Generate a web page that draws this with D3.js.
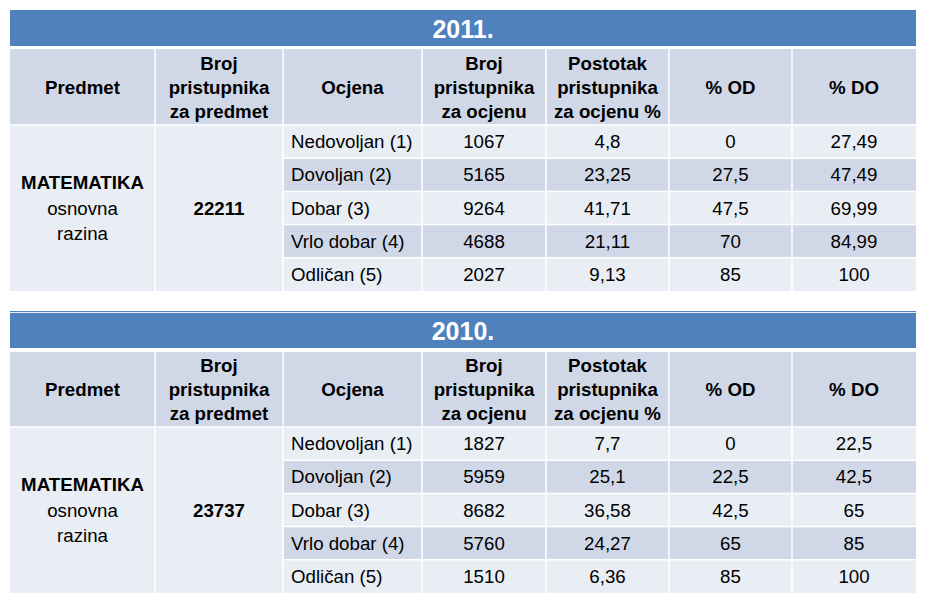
<!DOCTYPE html>
<html>
<head>
<meta charset="utf-8">
<script src="https://cdn.jsdelivr.net/npm/d3@7/dist/d3.min.js"></script>
<style>
  body { margin: 0; background: #fff; }
  svg text { font-family: "Liberation Sans", Arial, sans-serif; }
</style>
</head>
<body>
<div id="chart"></div>
<script>
// table data
var years = ["2011.", "2010."],
    headers = [["Predmet"], ["Broj", "pristupnika", "za predmet"], ["Ocjena"],
               ["Broj", "pristupnika", "za ocjenu"], ["Postotak", "pristupnika", "za ocjenu %"],
               ["% OD"], ["% DO"]],
    subject = ["MATEMATIKA", "osnovna", "razina"],
    grades = ["Nedovoljan (1)", "Dovoljan (2)", "Dobar (3)", "Vrlo dobar (4)", "Odličan (5)"],
    candidates = [22211, 23737],
    count2011 = [1067, 5165, 9264, 4688, 2027],
    pct2011 = [4.8, 23.25, 41.71, 21.11, 9.13],
    od2011 = [0, 27.5, 47.5, 70, 85],
    do2011 = [27.49, 47.49, 69.99, 84.99, 100],
    count2010 = [1827, 5959, 8682, 5760, 1510],
    pct2010 = [7.7, 25.1, 36.58, 24.27, 6.36],
    od2010 = [0, 22.5, 42.5, 65, 85],
    do2010 = [22.5, 42.5, 65, 85, 100];

var tables = [
  { year: years[0], total: candidates[0], cols: [count2011, pct2011, od2011, do2011] },
  { year: years[1], total: candidates[1], cols: [count2010, pct2010, od2010, do2010] }
];

var width = 931, height = 609,
    blue = "#4f81bd", dark = "#d0d8e8", light = "#e9edf4",
    fs = 18.7, lineH = 24;

// column edges
var colEdges = [10, 155, 283, 422, 546, 669, 792, 916];
// vertical layout per table: band top, band bottom, header top, header bottom, rows bottom
var layouts = [
  { bandTop: 10, bandBottom: 46, headTop: 49, headBottom: 125, bottom: 291, topLine: false },
  { bandTop: 311, bandBottom: 348, headTop: 352, headBottom: 427, bottom: 593, topLine: true }
];

var fmt = function(v) { return String(v).replace(".", ","); };

var svg = d3.select("#chart").append("svg")
    .attr("width", width)
    .attr("height", height);

tables.forEach(function(t, ti) {
  var L = layouts[ti];
  var g = svg.append("g");
  var x0 = colEdges[0], x1 = colEdges[colEdges.length - 1];

  var y = d3.scaleBand()
      .domain(d3.range(grades.length))
      .range([L.headBottom, L.bottom]);

  // title band
  g.append("rect")
      .attr("x", x0).attr("y", L.bandTop)
      .attr("width", x1 - x0).attr("height", L.bandBottom - L.bandTop)
      .attr("fill", blue);
  if (L.topLine) {
    g.append("line")
        .attr("x1", x0).attr("x2", x1)
        .attr("y1", L.bandTop + 1.5).attr("y2", L.bandTop + 1.5)
        .attr("stroke", "#e8eef6").attr("stroke-width", 1);
  }
  g.append("text")
      .attr("x", (x0 + x1) / 2)
      .attr("y", (L.bandTop + L.bandBottom) / 2 + 1)
      .attr("text-anchor", "middle")
      .attr("dominant-baseline", "central")
      .attr("fill", "#fff")
      .style("font-size", "25px")
      .style("font-weight", "bold")
      .text(t.year);

  // header row
  g.selectAll(".hcell")
      .data(headers)
      .enter().append("rect")
      .attr("class", "hcell")
      .attr("x", function(d, i) { return colEdges[i]; })
      .attr("y", L.headTop)
      .attr("width", function(d, i) { return colEdges[i + 1] - colEdges[i]; })
      .attr("height", L.headBottom - L.headTop)
      .attr("fill", dark);

  var hy = (L.headTop + L.headBottom) / 2;
  g.selectAll(".htext")
      .data(headers)
      .enter().append("text")
      .attr("class", "htext")
      .attr("x", function(d, i) { return (colEdges[i] + colEdges[i + 1]) / 2; })
      .attr("text-anchor", "middle")
      .style("font-size", fs + "px")
      .style("font-weight", "bold")
      .each(function(lines) {
        var el = d3.select(this);
        var x = el.attr("x");
        lines.forEach(function(s, k) {
          el.append("tspan")
              .attr("x", x)
              .attr("y", hy + (k - (lines.length - 1) / 2) * lineH + 6.5)
              .text(s);
        });
      });

  // merged subject + total cells
  [0, 1].forEach(function(c) {
    g.append("rect")
        .attr("x", colEdges[c]).attr("y", L.headBottom)
        .attr("width", colEdges[c + 1] - colEdges[c])
        .attr("height", L.bottom - L.headBottom)
        .attr("fill", light);
  });
  var my = (L.headBottom + L.bottom) / 2;
  var subj = g.append("text")
      .attr("text-anchor", "middle")
      .style("font-size", fs + "px");
  subject.forEach(function(s, k) {
    subj.append("tspan")
        .attr("x", (colEdges[0] + colEdges[1]) / 2)
        .attr("y", my + (k - 1) * 25.5 + 6.5)
        .style("font-weight", k === 0 ? "bold" : "normal")
        .text(s);
  });
  g.append("text")
      .attr("x", (colEdges[1] + colEdges[2]) / 2)
      .attr("y", my + 6.5)
      .attr("text-anchor", "middle")
      .style("font-size", fs + "px")
      .style("font-weight", "bold")
      .text(t.total);

  // grade rows
  var rows = g.selectAll(".row")
      .data(grades)
      .enter().append("g")
      .attr("class", "row");

  rows.append("rect")
      .attr("x", colEdges[2])
      .attr("y", function(d, i) { return y(i); })
      .attr("width", x1 - colEdges[2])
      .attr("height", y.bandwidth())
      .attr("fill", function(d, i) { return i % 2 === 0 ? light : dark; });

  rows.append("text")
      .attr("x", colEdges[2] + 8)
      .attr("y", function(d, i) { return y(i) + y.bandwidth() / 2 + 6.5; })
      .style("font-size", fs + "px")
      .text(function(d) { return d; });

  t.cols.forEach(function(vals, c) {
    rows.append("text")
        .attr("x", (colEdges[c + 3] + colEdges[c + 4]) / 2)
        .attr("y", function(d, i) { return y(i) + y.bandwidth() / 2 + 6.5; })
        .attr("text-anchor", "middle")
        .style("font-size", fs + "px")
        .text(function(d, i) { return fmt(vals[i]); });
  });

  // white grid lines
  var vlines = g.append("g").attr("stroke", "#fff").attr("stroke-width", 1.5);
  colEdges.slice(1, -1).forEach(function(xe, i) {
    vlines.append("line")
        .attr("x1", xe).attr("x2", xe)
        .attr("y1", L.headTop).attr("y2", L.bottom);
  });
  d3.range(1, grades.length).forEach(function(i) {
    vlines.append("line")
        .attr("x1", colEdges[2]).attr("x2", x1)
        .attr("y1", y(i)).attr("y2", y(i));
  });
  vlines.append("line")
      .attr("x1", x0).attr("x2", x1)
      .attr("y1", L.headBottom).attr("y2", L.headBottom);
});
</script>
</body>
</html>
